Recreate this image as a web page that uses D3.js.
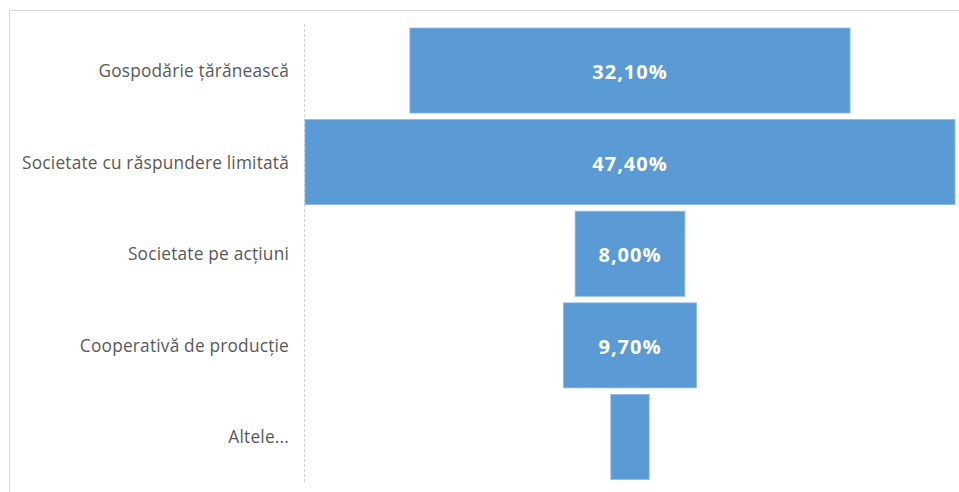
<!DOCTYPE html>
<html>
<head>
<meta charset="utf-8">
<script src="https://cdn.jsdelivr.net/npm/d3@7"></script>
<style>
  html, body { margin: 0; padding: 0; background: #fff; }
  svg { display: block; }
</style>
</head>
<body>
<svg id="chart" width="959" height="492"></svg>
<script>
// Forme de organizare juridică — ponderi (%)
const categories = [
  "Gospodărie țărănească",
  "Societate cu răspundere limitată",
  "Societate pe acțiuni",
  "Cooperativă de producție",
  "Altele..."
];
const values = [32.1, 47.4, 8.0, 9.7, 2.8];
const valueLabels = ["32,10%", "47,40%", "8,00%", "9,70%", ""];

const svg = d3.select("#chart");
const W = 959, H = 492;

// chart frame (top and left edges visible)
svg.append("path")
  .attr("d", `M9.5,${H} V10.5 H${W}`)
  .attr("fill", "none")
  .attr("stroke", "#d9d9d9")
  .attr("stroke-width", 1);

const plotLeft = 305, plotRight = 955;
const centre = (plotLeft + plotRight) / 2;

const y = d3.scaleBand()
  .domain(categories)
  .range([28, 479.5])
  .paddingInner(0.072)
  .paddingOuter(0);

// width of each funnel bar scales with its share
const w = d3.scaleLinear()
  .domain([0, d3.max(values)])
  .range([0, plotRight - plotLeft]);

// category axis as a dashed line
svg.append("line")
  .attr("x1", 304.5).attr("x2", 304.5)
  .attr("y1", 24).attr("y2", 484)
  .attr("stroke", "#d0d0d0")
  .attr("stroke-width", 1)
  .attr("stroke-dasharray", "3,2");

const rows = categories.map((c, i) => ({ cat: c, val: values[i], label: valueLabels[i] }));

svg.append("g").selectAll("rect")
  .data(rows)
  .join("rect")
  .attr("x", d => centre - w(d.val) / 2)
  .attr("y", d => y(d.cat))
  .attr("width", d => w(d.val))
  .attr("height", y.bandwidth())
  .attr("fill", "#5b9bd5")
  .attr("stroke", "#8db9e3")
  .attr("stroke-width", 0.8);

svg.append("g").selectAll("text")
  .data(rows)
  .join("text")
  .attr("x", centre)
  .attr("y", d => y(d.cat) + y.bandwidth() / 2 + 1)
  .attr("text-anchor", "middle")
  .attr("dominant-baseline", "central")
  .attr("font-family", "'Open Sans', 'Noto Sans', sans-serif")
  .attr("font-size", 20)
  .attr("font-weight", 700)
  .attr("letter-spacing", 1)
  .attr("fill", "#ffffff")
  .text(d => d.label);

svg.append("g").selectAll("text")
  .data(rows)
  .join("text")
  .attr("x", 289)
  .attr("y", d => y(d.cat) + y.bandwidth() / 2)
  .attr("text-anchor", "end")
  .attr("dominant-baseline", "central")
  .attr("font-family", "'Open Sans', 'Noto Sans', sans-serif")
  .attr("font-size", 17.3)
  .attr("letter-spacing", 0.2)
  .attr("fill", "#595959")
  .text(d => d.cat);
</script>
</body>
</html>
